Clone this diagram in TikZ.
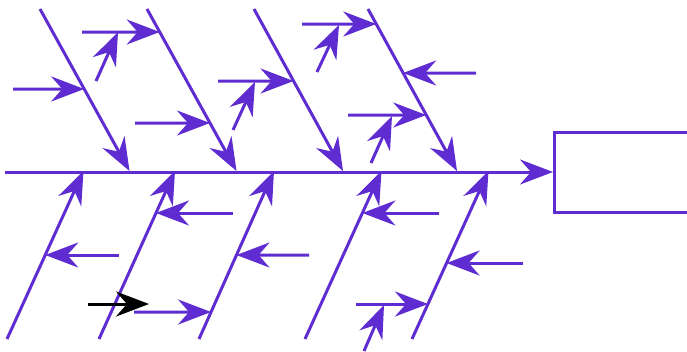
\documentclass[tikz,border=0pt]{standalone}
\usetikzlibrary{arrows.meta}
\definecolor{fishpurple}{RGB}{94,44,209}
\begin{document}
\begin{tikzpicture}[x=1pt,y=-1pt,
        fish/.style={draw=fishpurple, line width=3pt, -{Stealth[length=33pt,width=25pt,inset=11pt]}},
        plain/.style={draw=fishpurple, line width=3pt}]
        \useasboundingbox (0,0) rectangle (687,351);
        \clip (0,0) rectangle (687,351);
        % head and spine
        \node (effect) [plain, minimum width=150pt, minimum height=80pt, anchor=west, inner sep=0pt] at (553,172) {};
        \coordinate (tail) at (5,172);
        \draw [fish] (tail) -- (effect.west);
        % upper bones
        \coordinate (u1t) at (40,9);   \coordinate (u1b) at (129.5,171);
        \coordinate (u2t) at (147,9);  \coordinate (u2b) at (236.5,171);
        \coordinate (u3t) at (254,9);  \coordinate (u3b) at (343,171);
        \coordinate (u4t) at (368,9);  \coordinate (u4b) at (457,171);
        \draw [fish] (u1t) -- (u1b);
        \draw [fish] (u2t) -- (u2b);
        \draw [fish] (u3t) -- (u3b);
        \draw [fish] (u4t) -- (u4b);
        \draw [fish] (13,89) -- (intersection of u1t--u1b and 0,89--1,89);
        \draw [fish] (82,32) -- (intersection of u2t--u2b and 0,32--1,32);
        \draw [fish] (96,81) -- (118,32);
        \draw [fish] (135,123) -- (intersection of u2t--u2b and 0,123--1,123);
        \draw [fish] (218,81) -- (intersection of u3t--u3b and 0,81--1,81);
        \draw [fish] (233,130) -- (255,82);
        \draw [fish] (302,24) -- (intersection of u4t--u4b and 0,24--1,24);
        \draw [fish] (317,72) -- (339,25);
        \draw [fish] (476,73) -- (intersection of u4t--u4b and 0,73--1,73);
        \draw [fish] (348,115) -- (intersection of u4t--u4b and 0,115--1,115);
        \draw [fish] (371,163) -- (392,116);
        % lower bones
        \coordinate (l1b) at (7,339);   \coordinate (l1t) at (83.5,171);
        \coordinate (l2b) at (99,339);  \coordinate (l2t) at (175,171);
        \coordinate (l3b) at (199,339); \coordinate (l3t) at (274,171);
        \coordinate (l4b) at (305,339); \coordinate (l4t) at (381.5,171);
        \coordinate (l5b) at (412,339); \coordinate (l5t) at (488.5,171);
        \draw [fish] (l1b) -- (l1t);
        \draw [fish] (l2b) -- (l2t);
        \draw [fish] (l3b) -- (l3t);
        \draw [fish] (l4b) -- (l4t);
        \draw [fish] (l5b) -- (l5t);
        \draw [fish] (119,255) -- (intersection of l1b--l1t and 0,255--1,255);
        \draw [fish] (233,213) -- (intersection of l2b--l2t and 0,213--1,213);
        \draw [fish, draw=black] (88,304) -- (149,304);
        \draw [fish] (134,312) -- (intersection of l3b--l3t and 0,312--1,312);
        \draw [fish] (309,255) -- (intersection of l3b--l3t and 0,255--1,255);
        \draw [fish] (439,213) -- (intersection of l4b--l4t and 0,213--1,213);
        \draw [fish] (523,263) -- (intersection of l5b--l5t and 0,263--1,263);
        \draw [fish] (356,304) -- (intersection of l5b--l5t and 0,304--1,304);
        \draw [fish] (364,351) -- (384,305);
\end{tikzpicture}
\end{document}
